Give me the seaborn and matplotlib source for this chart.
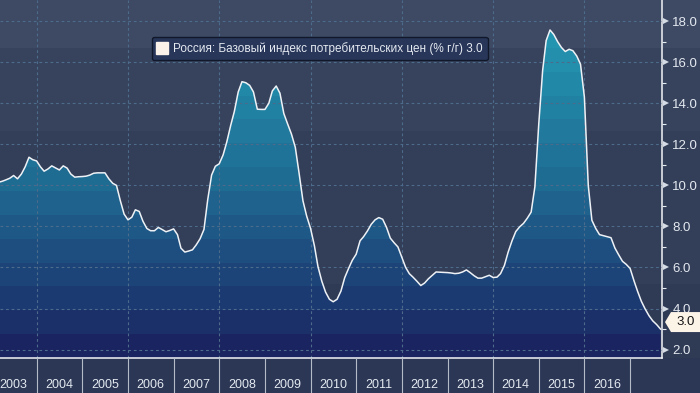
import numpy as np
import pandas as pd
import matplotlib
matplotlib.use("Agg")
import matplotlib.pyplot as plt
import matplotlib.transforms as mtransforms
import matplotlib.dates as mdates
from matplotlib.colors import LinearSegmentedColormap, ListedColormap
from matplotlib.patches import Polygon
from matplotlib.lines import Line2D
import seaborn as sns

# === DATA (core CPI, % y/y, monthly from Mar 2003) ===
START_MONTH = "2003-03-01"
core_2003 = [10.15, 10.2, 10.27, 10.35, 10.48, 10.32, 10.55, 10.9, 11.37, 11.25]
core_2004 = [11.19, 10.9, 10.69, 10.8, 10.95, 10.85, 10.75, 10.95, 10.84, 10.55, 10.4, 10.42]
core_2005 = [10.43, 10.45, 10.5, 10.59, 10.61, 10.61, 10.61, 10.32, 10.1, 10.0, 9.25, 8.6]
core_2006 = [8.32, 8.45, 8.81, 8.73, 8.25, 7.9, 7.79, 7.79, 7.95, 7.85, 7.74, 7.8]
core_2007 = [7.88, 7.6, 6.94, 6.75, 6.8, 6.86, 7.1, 7.4, 7.85, 9.3, 10.5, 10.93]
core_2008 = [11.05, 11.48, 12.1, 12.9, 13.6, 14.55, 15.05, 15.0, 14.87, 14.55, 13.71, 13.7]
core_2009 = [13.7, 14.0, 14.6, 14.84, 14.49, 13.5, 13.0, 12.5, 11.85, 10.6, 9.25, 8.5]
core_2010 = [7.9, 7.05, 6.05, 5.33, 4.8, 4.45, 4.33, 4.45, 4.85, 5.5, 5.95, 6.35]
core_2011 = [6.65, 7.3, 7.5, 7.78, 8.1, 8.32, 8.43, 8.35, 7.95, 7.43, 7.2, 7.0]
core_2012 = [6.5, 6.0, 5.7, 5.52, 5.33, 5.12, 5.24, 5.45, 5.62, 5.78, 5.77, 5.76]
core_2013 = [5.75, 5.73, 5.7, 5.72, 5.78, 5.88, 5.75, 5.6, 5.48, 5.48, 5.55, 5.62]
core_2014 = [5.51, 5.53, 5.7, 6.1, 6.75, 7.3, 7.75, 7.98, 8.15, 8.4, 8.7, 9.94]
core_2015 = [13.0, 15.6, 17.05, 17.57, 17.35, 17.0, 16.72, 16.52, 16.63, 16.56, 16.3, 15.9]
core_2016 = [14.3, 10.0, 8.3, 7.9, 7.6, 7.55, 7.5, 7.45, 6.95, 6.62, 6.3, 6.15]
core_2017 = [5.95, 5.35, 4.85, 4.35, 3.98, 3.65, 3.4, 3.22, 3.0]

values = (core_2003 + core_2004 + core_2005 + core_2006 + core_2007 + core_2008
          + core_2009 + core_2010 + core_2011 + core_2012 + core_2013 + core_2014
          + core_2015 + core_2016 + core_2017)
dates = pd.date_range(START_MONTH, periods=len(values), freq="MS")

Y_TICKS = [2, 4, 6, 8, 10, 12, 14, 16, 18]
Y_MINOR = [3, 5, 7, 9, 11, 13, 15, 17]
YEAR_LABELS = list(range(2003, 2017))
YEAR_SEPARATORS = list(range(2004, 2018))
GRID_YEARS = [2004, 2006, 2008, 2010, 2012, 2014, 2016]
LEGEND_LABEL = "Россия: Базовый индекс потребительских цен (% г/г)"

# === STYLE ===
X_START, X_END = pd.Timestamp("2003-03-14"), pd.Timestamp("2017-09-13")
Y_MIN, Y_MAX = 1.59, 19.03
BG_BANDS = [(0, 48, "#3e4a64"), (48, 131, "#37435d"), (131, 284, "#333e58"),
            (284, 358, "#2f3a55"), (358, 393, "#2b3755")]
FILL_STOPS = [(0.0, "#1a2460"), (0.14, "#1c3a72"), (0.48, "#1f6a92"),
              (0.88, "#2492ae"), (1.0, "#269bb5")]
N_BANDS = 15
GRID_C = "#4d6b8b"
TEXT_C = "#e4e9f0"
LINE_C = "#eef2f6"

plt.rcParams["font.family"] = ["Liberation Sans", "DejaVu Sans"]

fig = plt.figure(figsize=(7, 3.93), dpi=100)

# background bands over the whole figure
bg = fig.add_axes([0, 0, 1, 1], zorder=0)
bg.set_xlim(0, 700)
bg.set_ylim(393, 0)
for top, bottom, c in BG_BANDS:
    bg.axhspan(top, bottom, color=c, lw=0)
bg.axis("off")

ax = fig.add_axes([0, 35 / 393, 662 / 700, 358 / 393], zorder=1)
ax.set_facecolor("none")

# stepped gradient fill clipped under the curve
poly = ax.fill_between(dates, values, Y_MIN, facecolor="none", edgecolor="none")
band_cmap = ListedColormap(
    LinearSegmentedColormap.from_list("fill", FILL_STOPS)(np.linspace(0, 1, N_BANDS)))
im = ax.imshow(np.arange(N_BANDS).reshape(-1, 1), cmap=band_cmap, origin="lower",
               aspect="auto", zorder=1, interpolation="nearest",
               extent=[mdates.date2num(X_START), mdates.date2num(X_END), Y_MIN, Y_MAX])
im.set_clip_path(poly.get_paths()[0], transform=ax.transData)

sns.lineplot(x=dates, y=values, ax=ax, color=LINE_C, linewidth=1.1, zorder=5)

ax.set_xlim(X_START, X_END)
ax.set_ylim(Y_MIN, Y_MAX)
ax.set_xlabel("")
ax.set_ylabel("")

# grid
ax.set_axisbelow(False)
ax.yaxis.grid(True, which="major", color=GRID_C, linestyle=(0, (2.5, 2.5)), lw=0.8)
for yr in GRID_YEARS:
    ax.axvline(pd.Timestamp(f"{yr}-01-01"), color=GRID_C, linestyle=(0, (2.5, 2.5)),
               lw=0.8, zorder=2)

# x axis: long separators at year starts, labels at mid-year
ax.set_xticks([pd.Timestamp(f"{y}-01-01") for y in YEAR_SEPARATORS])
ax.set_xticklabels([])
ax.set_xticks([pd.Timestamp(f"{y}-07-01") for y in YEAR_LABELS], minor=True)
ax.set_xticklabels([str(y) for y in YEAR_LABELS], minor=True)
ax.tick_params(axis="x", which="major", length=25, width=0.8, color="#b4bcc8", direction="out")
ax.tick_params(axis="x", which="minor", length=0, pad=15, labelsize=9, labelcolor=TEXT_C)

# y axis on the right
ax.yaxis.tick_right()
ax.set_yticks(Y_TICKS)
ax.set_yticklabels([f"{v:.1f}" for v in Y_TICKS])
ax.set_yticks(Y_MINOR, minor=True)
ax.tick_params(axis="y", which="major", length=0, pad=7.5, labelsize=9.5, labelcolor=TEXT_C)
ax.tick_params(axis="y", which="minor", length=3, width=0.8, color="#e8edf3", direction="out")

blend = mtransforms.blended_transform_factory(ax.transAxes, ax.transData)
tri_tr = blend + mtransforms.ScaledTranslation(4 / 100, 0, fig.dpi_scale_trans)
for v in Y_TICKS:
    ax.plot([1.0], [v], transform=tri_tr, marker=">", ms=4.5, color="#d5dce6",
            markeredgewidth=0, clip_on=False, zorder=6)

for side in ["top", "left"]:
    ax.spines[side].set_visible(False)
for side in ["right", "bottom"]:
    ax.spines[side].set_color("#f2f4f7")
    ax.spines[side].set_linewidth(1.1)

# legend box
handle = Line2D([], [], marker="s", color="none", markerfacecolor="#fbf3ea",
                markeredgecolor="#fbf3ea", markersize=8)
leg = ax.legend([handle], [f"{LEGEND_LABEL} {values[-1]:.1f}"], loc="upper left",
                bbox_to_anchor=(146 / 662, 1 - 31 / 358), frameon=True, fancybox=True,
                facecolor="#28365a", edgecolor="#10182a", labelcolor=TEXT_C,
                fontsize=8.5, handlelength=0.8, handletextpad=0.5, borderpad=0.45,
                framealpha=1)
leg.set_zorder(8)

# last value tag on the right axis
tag_tr = fig.dpi_scale_trans + mtransforms.ScaledTranslation(1.0, values[-1], blend)
tag = Polygon([(0.03, 0.07), (0.09, 0.17), (0.38, 0.17), (0.38, -0.03), (0.09, -0.03)],
              closed=True, transform=tag_tr, facecolor="#fdf4e8", edgecolor="none",
              clip_on=False, zorder=10)
fig.add_artist(tag)
fig.text(0.235, 0.07, f"{values[-1]:.1f}", transform=tag_tr, ha="center", va="center",
         color="#141414", fontsize=9.5, zorder=11)

fig.savefig("out.png", dpi=100)
